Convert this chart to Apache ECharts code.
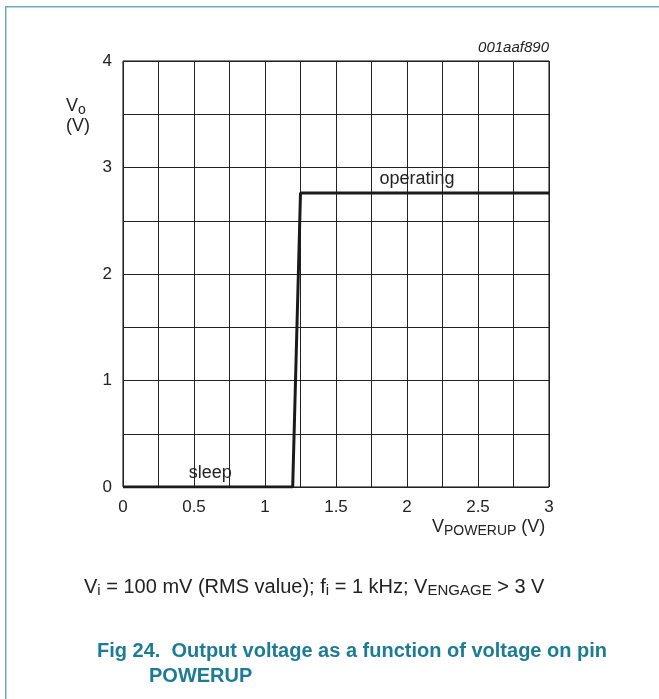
<!DOCTYPE html>
<html><head><meta charset="utf-8">
<script src="https://cdn.jsdelivr.net/npm/echarts@6/dist/echarts.min.js"></script>
<style>html,body{margin:0;padding:0;background:#fff}#c{width:659px;height:699px}</style>
</head><body><div id="c"></div>
<script>
// Data
const curveX = [0, 1.195, 1.25, 3];
const curveY = [0, 0, 2.76, 2.76];
const xTicks = [0, 0.5, 1, 1.5, 2, 2.5, 3];
const yTicks = [0, 1, 2, 3, 4];
const regionLabels = ['operating', 'sleep'];
const regionPos = [[2.07, 2.76], [0.615, 0]];

const F = '"Liberation Sans", Arial, sans-serif';
const chart = echarts.init(document.getElementById('c'), null, {renderer: 'canvas'});
const pts = curveX.map((x, i) => [x, curveY[i]]);

function fmtX(v) { return xTicks.some(t => Math.abs(t - v) < 1e-6) ? String(v) : ''; }
function fmtY(v) { return yTicks.some(t => Math.abs(t - v) < 1e-6) ? String(v) : ''; }

chart.setOption({
  animation: false,
  backgroundColor: '#fff',
  grid: {left: 123, top: 61, width: 426, height: 426, show: true, borderColor: '#000', borderWidth: 1},
  xAxis: {
    type: 'value', min: 0, max: 3, interval: 0.25,
    axisLine: {show: false}, axisTick: {show: false},
    splitLine: {show: true, lineStyle: {color: '#222', width: 1}},
    axisLabel: {formatter: fmtX, fontFamily: F, fontSize: 17, color: '#222', margin: 12, showMaxLabel: true, showMinLabel: true}
  },
  yAxis: {
    type: 'value', min: 0, max: 4, interval: 0.5,
    axisLine: {show: false}, axisTick: {show: false},
    splitLine: {show: true, lineStyle: {color: '#222', width: 1}},
    axisLabel: {formatter: fmtY, fontFamily: F, fontSize: 17, color: '#222', margin: 11}
  },
  series: [{
    type: 'line', data: pts, symbol: 'none',
    lineStyle: {color: '#1a1a1a', width: 3},
    markPoint: {
      symbol: 'circle', symbolSize: 0,
      data: regionLabels.map((t, i) => ({coord: regionPos[i], value: t})),
      label: {show: true, formatter: p => p.value, position: 'top', distance: 5,
        fontFamily: F, fontSize: 18, color: '#222'}
    }
  }],
  graphic: [
    {type: 'rect', shape: {x: 5, y: 6, width: 654, height: 1.5}, style: {fill: '#6aabbd'}, silent: true},
    {type: 'rect', shape: {x: 5, y: 6, width: 1.5, height: 693}, style: {fill: '#6aabbd'}, silent: true},
    {type: 'text', x: 549, y: 48, style: {text: '001aaf890', font: 'italic 15px ' + F, fill: '#222', align: 'right', verticalAlign: 'middle'}},
    {type: 'text', x: 66, y: 116, style: {
      text: '{m|V}{s|o}\n{m|(V)}', align: 'left', verticalAlign: 'middle', rich: {
        m: {fontFamily: F, fontSize: 18, fill: '#222', lineHeight: 20},
        s: {fontFamily: F, fontSize: 14, fill: '#222', lineHeight: 20, padding: [8, 0, 0, 0]}
      }}},
    {type: 'text', x: 432, y: 527, style: {
      text: '{m|V}{s|POWERUP}{m| (V)}', align: 'left', verticalAlign: 'middle', rich: {
        m: {fontFamily: F, fontSize: 18, fill: '#222', lineHeight: 20},
        s: {fontFamily: F, fontSize: 14, fill: '#222', lineHeight: 20, padding: [8, 0, 0, 0]}
      }}},
    {type: 'text', x: 84, y: 587, style: {
      text: '{m|V}{s|i}{m| = 100 mV (RMS value); f}{s|i}{m| = 1 kHz; V}{s|ENGAGE}{m| > 3 V}', align: 'left', verticalAlign: 'middle', rich: {
        m: {fontFamily: F, fontSize: 20, fill: '#222', lineHeight: 22},
        s: {fontFamily: F, fontSize: 15, fill: '#222', lineHeight: 22, padding: [8, 0, 0, 0]}
      }}},
    {type: 'text', x: 97, y: 651, style: {
      text: 'Fig 24.  Output voltage as a function of voltage on pin', font: 'bold 20px ' + F, fill: '#1c7b95', verticalAlign: 'middle'}},
    {type: 'text', x: 149, y: 676, style: {
      text: 'POWERUP', font: 'bold 20px ' + F, fill: '#1c7b95', verticalAlign: 'middle'}}
  ]
});
</script></body></html>
